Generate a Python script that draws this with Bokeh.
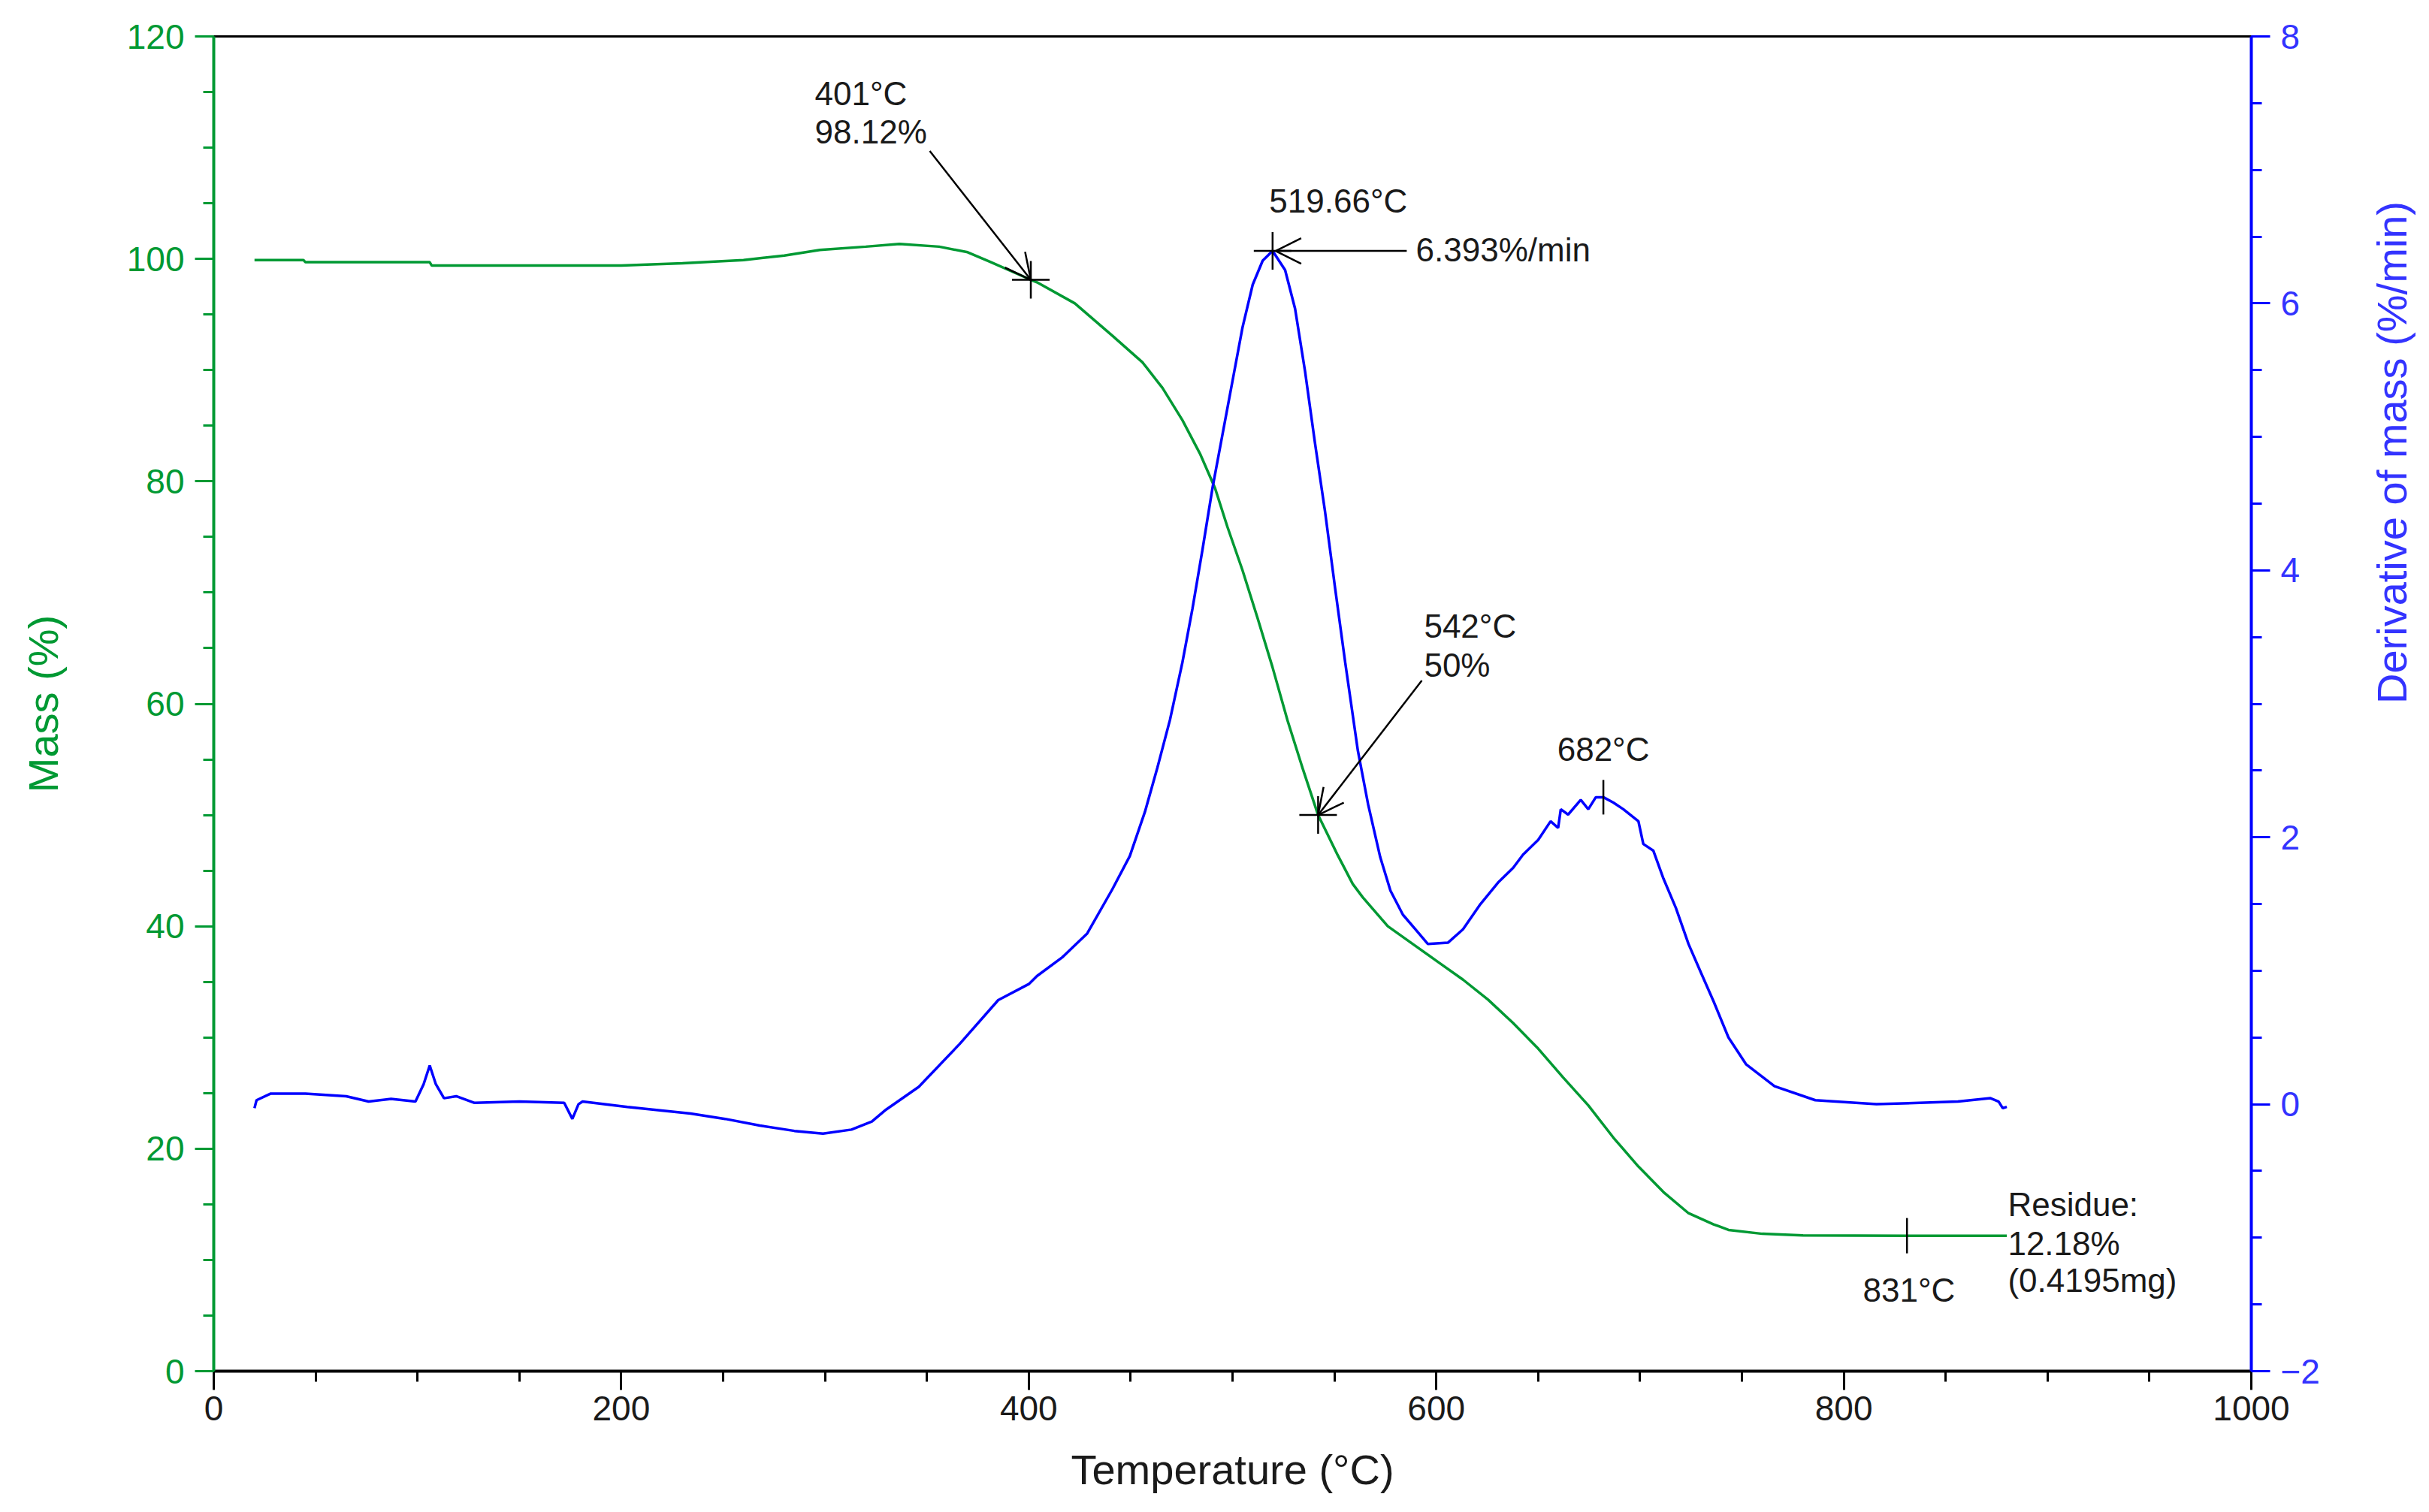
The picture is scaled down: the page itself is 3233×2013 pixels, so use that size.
from bokeh.plotting import figure
from bokeh.models import Range1d, LinearAxis, FixedTicker, Arrow, OpenHead, Label
from bokeh.embed import file_html
from bokeh.resources import INLINE
import math

# ---------------- data ----------------
temp_tga = [20, 44, 45, 106, 107, 200, 215, 230, 260, 280, 297.5, 320, 336.5,
            356, 370, 381.5, 401, 404, 422.6, 441, 455.8, 465.6, 475.4, 484,
            491.4, 497.5, 504.9, 512.3, 519.6, 527, 534.4, 542, 551.6, 559,
            563.9, 576.2, 588.5, 600.8, 613.1, 625.4, 637.7, 650, 662.3, 674.6,
            686.9, 699.2, 711.5, 723.8, 736.1, 743.4, 760, 780, 831, 880]
mass_pct = [99.9, 99.9, 99.7, 99.7, 99.4, 99.4, 99.5, 99.6, 99.9, 100.3, 100.8,
            101.1, 101.35, 101.1, 100.6, 99.7, 98.12, 97.9, 96.0, 93.1, 90.7,
            88.4, 85.5, 82.5, 79.4, 75.9, 72.0, 67.7, 63.3, 58.5, 54.2, 50.0,
            46.4, 43.8, 42.6, 40.0, 38.4, 36.8, 35.2, 33.4, 31.3, 29.0, 26.4,
            23.9, 21.0, 18.4, 16.1, 14.2, 13.2, 12.7, 12.35, 12.2, 12.18, 12.18]

temp_dtg = [20, 21, 28, 45, 65, 76, 87, 99, 103, 106, 109, 113, 119, 128, 150,
            172, 176, 179, 181, 203, 234, 251, 268, 285, 299, 313, 323, 330,
            346, 366, 385, 400, 404, 416.4, 428.7, 441, 449.6, 457, 463.1,
            469.3, 475.4, 480.3, 485.2, 490.2, 495.1, 500, 504.9, 509.9, 514.8,
            519.66, 525.8, 530.7, 535.6, 540.5, 545.4, 550.4, 555.3, 561.5,
            566.5, 572.5, 577.5, 583.6, 589.8, 595.9, 605.7, 613.1, 621.7,
            630.3, 637.7, 642.6, 650, 656.1, 659.8, 661.1, 664.7, 670.9, 674.6,
            678.3, 682, 686.9, 691.8, 699.2, 701.6, 706.5, 711.5, 717.6, 723.8,
            729.9, 736.1, 743.4, 752, 766, 786, 816, 856, 872, 876, 878, 880]
dtg_rate = [-0.03, 0.03, 0.08, 0.08, 0.06, 0.02, 0.04, 0.02, 0.15, 0.29, 0.15,
            0.045, 0.06, 0.01, 0.02, 0.01, -0.11, 0.0, 0.02, -0.02, -0.07,
            -0.11, -0.16, -0.20, -0.22, -0.19, -0.13, -0.04, 0.13, 0.45, 0.78,
            0.90, 0.96, 1.10, 1.28, 1.61, 1.86, 2.19, 2.52, 2.88, 3.31, 3.71,
            4.15, 4.62, 5.02, 5.42, 5.82, 6.14, 6.32, 6.393, 6.25, 5.96, 5.49,
            4.95, 4.44, 3.86, 3.31, 2.65, 2.25, 1.85, 1.60, 1.42, 1.31, 1.20,
            1.21, 1.31, 1.50, 1.66, 1.77, 1.87, 1.98, 2.12, 2.07, 2.21, 2.17,
            2.28, 2.21, 2.30, 2.30, 2.26, 2.21, 2.12, 1.95, 1.90, 1.69, 1.47,
            1.20, 0.985, 0.77, 0.50, 0.30, 0.135, 0.03, 0.0, 0.02, 0.045, 0.02,
            -0.03, -0.02]

# annotated values
onset_temp, onset_mass = 401, 98.12
half_temp, half_mass = 542, 50
peak_temp, peak_rate = 519.66, 6.393
second_temp, second_rate = 682, 2.30
residue_temp, residue_mass, residue_mg = 831, 12.18, 0.4195

# axis ticks
x_ticks = [0, 200, 400, 600, 800, 1000]
x_minor = list(range(0, 1001, 50))
mass_ticks = [0, 20, 40, 60, 80, 100, 120]
mass_minor = list(range(0, 121, 5))
dtg_ticks = [-2, 0, 2, 4, 6, 8]
dtg_minor = [v / 2 for v in range(-4, 17)]

# ---------------- styling ----------------
GREEN = "#009933"
BLUE = "#0000ff"
BLUE_TXT = "#3333ff"
TXT = "#1a1a1a"
FONT = "Liberation Sans"

p = figure(frame_width=2712, frame_height=1777,
           min_border_left=284, min_border_right=220,
           min_border_top=48, min_border_bottom=171,
           x_range=Range1d(0, 1000), y_range=Range1d(0, 120),
           output_backend="svg", toolbar_location=None)
p.xgrid.visible = False
p.ygrid.visible = False
p.outline_line_color = "black"
p.outline_line_width = 3
p.background_fill_color = "white"
p.border_fill_color = "white"

p.extra_y_ranges = {"dtg": Range1d(-2, 8)}


def style_axis(ax, color, label_color, title_color):
    ax.axis_line_color = color
    ax.axis_line_width = 4
    ax.major_tick_line_color = color
    ax.minor_tick_line_color = color
    ax.major_tick_line_width = 3
    ax.minor_tick_line_width = 3
    ax.major_tick_in = 0
    ax.minor_tick_in = 0
    ax.major_tick_out = 25
    ax.minor_tick_out = 14
    ax.major_label_text_font = FONT
    ax.major_label_text_font_size = "46px"
    ax.major_label_text_color = label_color
    ax.axis_label_text_font = FONT
    ax.axis_label_text_font_size = "56px"
    ax.axis_label_text_font_style = "normal"
    ax.axis_label_text_color = title_color


xa = p.xaxis[0]
xa.ticker = FixedTicker(ticks=x_ticks, minor_ticks=x_minor)
xa.axis_label = "Temperature (°C)"
style_axis(xa, "black", TXT, TXT)
xa.major_label_standoff = 8
xa.axis_label_standoff = 31

ya = p.yaxis[0]
ya.ticker = FixedTicker(ticks=mass_ticks, minor_ticks=mass_minor)
ya.axis_label = "Mass (%)"
style_axis(ya, GREEN, GREEN, GREEN)
ya.major_label_standoff = 14
ya.axis_label_standoff = 77

ra = LinearAxis(y_range_name="dtg",
                ticker=FixedTicker(ticks=dtg_ticks, minor_ticks=dtg_minor),
                axis_label="Derivative of mass (%/min)")
style_axis(ra, BLUE, BLUE_TXT, BLUE_TXT)
ra.major_label_standoff = 14
ra.axis_label_standoff = 93
if "axis_label_orientation" in ra.properties():
    ra.axis_label_orientation = math.pi / 2
p.add_layout(ra, "right")

# ---------------- curves ----------------
p.line(temp_tga, mass_pct, line_color=GREEN, line_width=3.5)
p.line(temp_dtg, dtg_rate, line_color=BLUE, line_width=3.5, y_range_name="dtg")

# ---------------- annotations ----------------
p.scatter([onset_temp, half_temp], [onset_mass, half_mass], marker="cross",
          size=50, line_color="black", line_width=2.5)
p.scatter([peak_temp], [peak_rate], marker="cross", size=50,
          line_color="black", line_width=2.5, y_range_name="dtg")
p.scatter([second_temp], [second_rate], marker="dash", angle=math.pi / 2,
          size=46, line_color="black", line_width=2.5, y_range_name="dtg")
p.scatter([residue_temp], [residue_mass], marker="dash", angle=math.pi / 2,
          size=47, line_color="black", line_width=2.5)

head = dict(size=34, line_color="black", line_width=2.5)
p.add_layout(Arrow(end=OpenHead(**head), x_start=351.4, y_start=109.7,
                   x_end=onset_temp, y_end=onset_mass,
                   line_color="black", line_width=2.5))
p.add_layout(Arrow(end=OpenHead(**head), x_start=585.5, y_start=peak_rate,
                   x_end=peak_temp + 1.5, y_end=peak_rate,
                   line_color="black", line_width=2.5, y_range_name="dtg"))
p.add_layout(Arrow(end=OpenHead(**head), x_start=592.9, y_start=62.1,
                   x_end=half_temp, y_end=half_mass,
                   line_color="black", line_width=2.5))


def label(x, y, text, align="left", rng="default"):
    p.add_layout(Label(x=x, y=y, text=text, text_align=align,
                       text_baseline="middle", text_font=FONT,
                       text_font_size="44px", text_color=TXT,
                       y_range_name=rng))


label(295, 114.9, f"{onset_temp}°C")
label(295, 111.4, f"{onset_mass:.2f}%")
label(518, 6.77, f"{peak_temp:.2f}°C", rng="dtg")
label(590, 6.40, f"{peak_rate:.3f}%/min", rng="dtg")
label(594, 67.0, f"{half_temp}°C")
label(594, 63.5, f"{half_mass}%")
label(second_temp, 2.66, f"{second_temp}°C", align="center", rng="dtg")
label(residue_temp + 1, 7.3, f"{residue_temp}°C", align="center")
label(880.5, 15.0, "Residue:")
label(880.5, 11.48, f"{residue_mass:.2f}%")
label(880.5, 8.17, f"({residue_mg}mg)")

open("out.html", "w").write(file_html(p, INLINE))
